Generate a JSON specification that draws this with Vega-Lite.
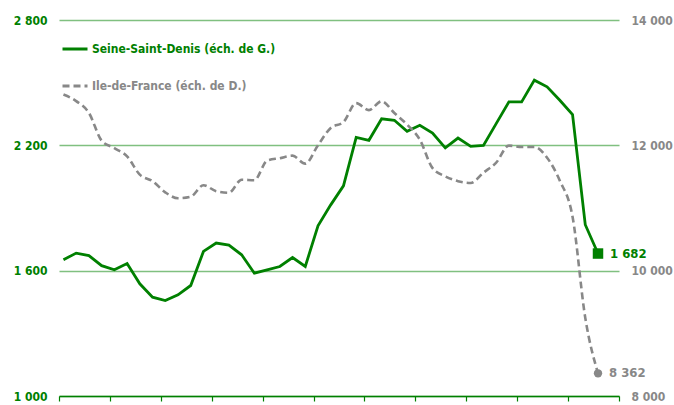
{
  "$schema": "https://vega.github.io/schema/vega-lite/v6.json",
  "width": 560,
  "height": 376,
  "autosize": "none",
  "padding": {"left": 59, "top": 20, "right": 55, "bottom": 9},
  "config": {
    "locale": {"number": {"decimal": ",", "thousands": " ", "grouping": [3], "currency": ["", " €"]}},
    "view": {"stroke": null},
    "font": "DejaVu Sans Condensed"
  },
  "data": {"values": [
    {"t": 0, "ssd": 1652, "idf": 12810},
    {"t": 1, "ssd": 1684, "idf": 12706},
    {"t": 2, "ssd": 1672, "idf": 12518},
    {"t": 3, "ssd": 1624, "idf": 12075},
    {"t": 4, "ssd": 1604, "idf": 11955},
    {"t": 5, "ssd": 1634, "idf": 11824},
    {"t": 6, "ssd": 1537, "idf": 11532},
    {"t": 7, "ssd": 1473, "idf": 11428},
    {"t": 8, "ssd": 1457, "idf": 11249},
    {"t": 9, "ssd": 1484, "idf": 11156},
    {"t": 10, "ssd": 1529, "idf": 11180},
    {"t": 11, "ssd": 1692, "idf": 11364},
    {"t": 12, "ssd": 1732, "idf": 11268},
    {"t": 13, "ssd": 1722, "idf": 11244},
    {"t": 14, "ssd": 1676, "idf": 11452},
    {"t": 15, "ssd": 1588, "idf": 11444},
    {"t": 16, "ssd": 1604, "idf": 11756},
    {"t": 17, "ssd": 1620, "idf": 11795},
    {"t": 18, "ssd": 1663, "idf": 11835},
    {"t": 19, "ssd": 1620, "idf": 11708},
    {"t": 20, "ssd": 1815, "idf": 12003},
    {"t": 21, "ssd": 1915, "idf": 12278},
    {"t": 22, "ssd": 2006, "idf": 12371},
    {"t": 23, "ssd": 2238, "idf": 12674},
    {"t": 24, "ssd": 2224, "idf": 12562},
    {"t": 25, "ssd": 2327, "idf": 12703},
    {"t": 26, "ssd": 2320, "idf": 12515},
    {"t": 27, "ssd": 2267, "idf": 12331},
    {"t": 28, "ssd": 2296, "idf": 12091},
    {"t": 29, "ssd": 2259, "idf": 11636},
    {"t": 30, "ssd": 2188, "idf": 11505},
    {"t": 31, "ssd": 2235, "idf": 11428},
    {"t": 32, "ssd": 2195, "idf": 11399},
    {"t": 33, "ssd": 2200, "idf": 11564},
    {"t": 34, "ssd": 2304, "idf": 11724},
    {"t": 35, "ssd": 2408, "idf": 11995},
    {"t": 36, "ssd": 2408, "idf": 11974},
    {"t": 37, "ssd": 2512, "idf": 11974},
    {"t": 38, "ssd": 2480, "idf": 11803},
    {"t": 39, "ssd": 2416, "idf": 11436},
    {"t": 40, "ssd": 2347, "idf": 10861},
    {"t": 41, "ssd": 1820, "idf": 9247},
    {"t": 42, "ssd": 1682, "idf": 8362}
  ]},
  "encoding": {
    "x": {
      "field": "t", "type": "quantitative",
      "scale": {"domain": [-0.35, 43.65], "nice": false, "zero": false},
      "axis": {
        "values": [-0.35, 3.65, 7.65, 11.65, 15.65, 19.65, 23.65, 27.65, 31.65, 35.65, 39.65, 43.65],
        "labels": false, "ticks": true, "tickSize": 5, "tickColor": "#008000", "tickWidth": 1.2,
        "domainColor": "#008000", "domainWidth": 1.5, "grid": false, "title": null, "zindex": 1
      }
    }
  },
  "layer": [
    {
      "encoding": {
        "y": {
          "field": "ssd", "type": "quantitative",
          "scale": {"domain": [1000, 2800], "nice": false, "zero": false},
          "axis": {
            "orient": "left", "values": [1000, 1600, 2200, 2800], "format": ",d",
            "title": null, "domain": false, "ticks": false, "labelPadding": 12,
            "labelColor": "#008000", "labelFontWeight": "bold", "labelFontSize": 12,
            "grid": true, "gridColor": "#80c080", "gridWidth": 1.5
          }
        }
      },
      "layer": [
        {
          "mark": {"type": "line", "strokeWidth": 2.8, "interpolate": "linear"},
          "encoding": {
            "color": {
              "datum": "Seine-Saint-Denis (éch. de G.)",
              "type": "nominal",
              "scale": {"domain": ["Seine-Saint-Denis (éch. de G.)", "Ile-de-France (éch. de D.)"], "range": ["#008000", "#888888"]},
              "legend": {
                "orient": "none", "legendX": 2, "legendY": 15, "title": null, "padding": 0,
                "symbolType": "stroke", "symbolSize": 625, "symbolStrokeWidth": 3,
                "labelFontSize": 12, "labelFontWeight": "bold", "labelOffset": 3, "rowPadding": 17,
                "labelLimit": 0, "labelColor": "#008000",
                "encode": {
                  "labels": {"update": {"fill": {"signal": "datum.value === 'Ile-de-France (éch. de D.)' ? '#888888' : '#008000'"}}},
                  "symbols": {"update": {"strokeDash": {"signal": "datum.value === 'Ile-de-France (éch. de D.)' ? [7, 4] : [1, 0]"}}}
                }
              }
            }
          }
        },
        {
          "transform": [{"filter": "datum.t === 42"}],
          "mark": {"type": "square", "size": 110, "filled": true, "color": "#008000", "opacity": 1},
          "encoding": {}
        },
        {
          "transform": [{"filter": "datum.t === 42"}],
          "mark": {"type": "text", "align": "left", "dx": 12, "fontSize": 13, "fontWeight": "bold", "color": "#008000", "baseline": "middle"},
          "encoding": {"text": {"field": "ssd", "type": "quantitative", "format": ",d"}}
        }
      ]
    },
    {
      "encoding": {
        "y": {
          "field": "idf", "type": "quantitative",
          "scale": {"domain": [8000, 14000], "nice": false, "zero": false},
          "axis": {
            "orient": "right", "values": [8000, 10000, 12000, 14000], "format": ",d",
            "title": null, "domain": false, "ticks": false, "labelPadding": 12,
            "labelColor": "#888888", "labelFontWeight": "bold", "labelFontSize": 12,
            "grid": false
          }
        }
      },
      "layer": [
        {
          "mark": {"type": "line", "strokeWidth": 2.6, "interpolate": "monotone", "strokeDash": [7, 4]},
          "encoding": {"color": {"datum": "Ile-de-France (éch. de D.)", "type": "nominal"}}
        },
        {
          "transform": [{"filter": "datum.t === 42"}],
          "mark": {"type": "circle", "size": 70, "color": "#888888", "opacity": 1},
          "encoding": {}
        },
        {
          "transform": [{"filter": "datum.t === 42"}],
          "mark": {"type": "text", "align": "left", "dx": 11, "fontSize": 13, "fontWeight": "bold", "color": "#888888", "baseline": "middle"},
          "encoding": {"text": {"field": "idf", "type": "quantitative", "format": ",d"}}
        }
      ]
    }
  ],
  "resolve": {"scale": {"y": "independent"}}
}
